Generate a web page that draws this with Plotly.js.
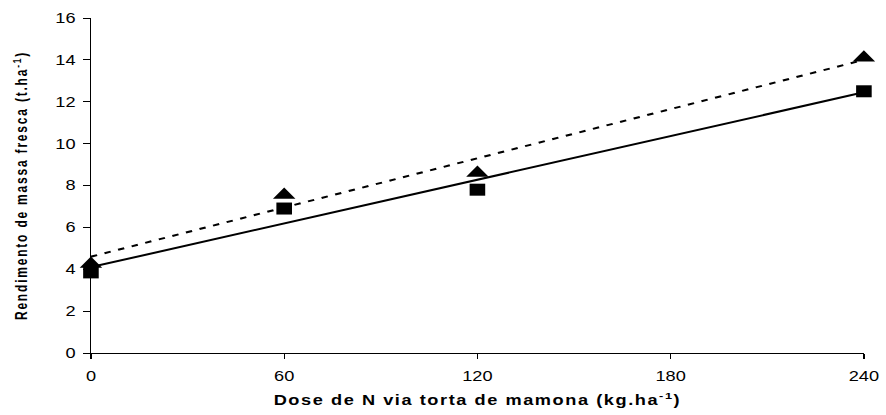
<!DOCTYPE html>
<html>
<head>
<meta charset="utf-8">
<script src="https://cdn.plot.ly/plotly-3.0.1.min.js"></script>
<style>
  html, body { margin: 0; padding: 0; background: #fff; overflow: hidden; }
  #chart { width: 682px; height: 415px; transform: scaleX(1.2991); transform-origin: 0 0; }
  .xtitle { letter-spacing: 1.2px; }
  .ytitle { letter-spacing: 1.8px; }
</style>
</head>
<body>
<div id="chart"></div>
<script>
// Data
const doseN = [0, 60, 120, 240];                 // kg/ha of N (castor cake)
const seriesSquare = [3.85, 6.9, 7.8, 12.5];     // squares
const seriesTriangle = [4.25, 7.55, 8.6, 14.1];  // triangles
const trendX = [0, 240];
const trendSolid = [4.1, 12.45];                 // solid fitted line (squares)
const trendDashed = [4.6, 14.0];                 // dashed fitted line (triangles)
const xTicks = [0, 60, 120, 180, 240];
const yTicks = [0, 2, 4, 6, 8, 10, 12, 14, 16];

const FONT = 'Liberation Sans, Arial, sans-serif';

const traces = [
  { x: trendX, y: trendSolid, mode: 'lines', cliponaxis: false,
    line: { color: '#000', width: 2 }, hoverinfo: 'skip' },
  { x: trendX, y: trendDashed, mode: 'lines', cliponaxis: false,
    line: { color: '#000', width: 2, dash: '5px,6px' }, hoverinfo: 'skip' },
  { x: doseN, y: seriesSquare, mode: 'markers', cliponaxis: false,
    marker: { symbol: 'square', size: 12, color: '#000' } },
  { x: doseN, y: seriesTriangle, mode: 'markers', cliponaxis: false,
    marker: { symbol: 'triangle-up', size: 15, color: '#000' } }
];

const layout = {
  width: 682, height: 415,
  margin: { l: 70, r: 17, t: 18, b: 62 },
  paper_bgcolor: '#fff', plot_bgcolor: '#fff',
  showlegend: false,
  font: { family: FONT, color: '#000', size: 14 },
  xaxis: {
    range: [0, 240], tickvals: xTicks, ticktext: xTicks.map(String),
    showgrid: false, zeroline: false, showline: true, linecolor: '#000', linewidth: 1,
    ticks: 'outside', ticklen: 5, tickcolor: '#000', tickwidth: 1,
    ticklabelstandoff: 5,
    tickfont: { family: FONT, size: 14, color: '#000' },
    title: { text: 'Dose de N via torta de mamona (kg.ha<sup>-1</sup>)',
             font: { family: FONT, size: 14, color: '#000', weight: 'bold' }, standoff: 12 }
  },
  yaxis: {
    range: [0, 16], tickvals: yTicks, ticktext: yTicks.map(String),
    showgrid: false, zeroline: false, showline: true, linecolor: '#000', linewidth: 1,
    ticks: 'outside', ticklen: 5, tickcolor: '#000', tickwidth: 1,
    ticklabelstandoff: 3,
    tickfont: { family: FONT, size: 14, color: '#000' },
    title: { text: 'Rendimento de massa fresca (t.ha<sup>-1</sup>)',
             font: { family: FONT, size: 12, color: '#000', weight: 'bold' }, standoff: 18 }
  }
};

Plotly.newPlot('chart', traces, layout, { staticPlot: true, displayModeBar: false });
</script>
</body>
</html>
